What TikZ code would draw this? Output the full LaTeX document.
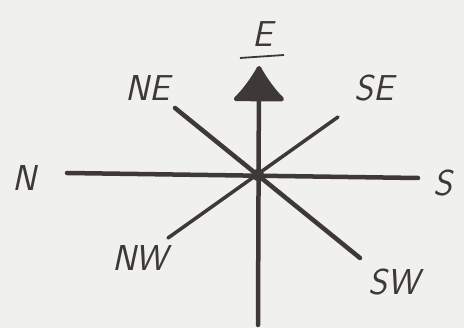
\documentclass[tikz,border=0pt]{standalone}
\usepackage{xcolor}
\usetikzlibrary{arrows.meta}
\definecolor{inkgray}{RGB}{62, 56, 56}
\definecolor{paper}{RGB}{240, 240, 236}

\tikzset{
  needle/.style={line width=4.5pt, color=inkgray, line cap=round},
  wind/.style={font=\fontsize{36}{36}\selectfont\sffamily\slshape, text=inkgray, inner sep=0pt}
}

\begin{document}
\begin{tikzpicture}[x=1pt, y=-1pt]
\fill[paper] (0,0) rectangle (464,328);
\useasboundingbox (0,0) rectangle (464,328);

% ends of the compass lines
\coordinate (C) at (258,175);
\coordinate (Wend) at (67,173);
\coordinate (Eend) at (418,178);
\coordinate (Top) at (259,66);
\coordinate (Bot) at (258,325);
\coordinate (ULend) at (175,108);
\coordinate (LRend) at (360,258);
\coordinate (URend) at (338,117);
\coordinate (LLend) at (168,238);

\draw[needle] (Wend) -- (Eend);
\draw[needle] (ULend) -- (LRend);
\draw[needle, line width=3.5pt] (URend) -- (LLend);
\draw[needle, -{Latex[length=38pt, width=58pt, round]}] (Bot) -- (Top);
\fill[inkgray] (C) circle (6pt);

% labels
\node[wind] (lN) at (24,178) {N};
\node[wind] (lNE) at (148,88) {NE};
\node[wind] (lE) at (263,34) {E};
\draw[line width=1.8pt, inkgray] (240,58) -- (284,55);
\node[wind] (lSE) at (374,88) {SE};
\node[wind] (lS) at (443,183) {S};
\node[wind] (lNW) at (140,258) {NW};
\node[wind] (lSW) at (394,282) {SW};
\end{tikzpicture}
\end{document}
